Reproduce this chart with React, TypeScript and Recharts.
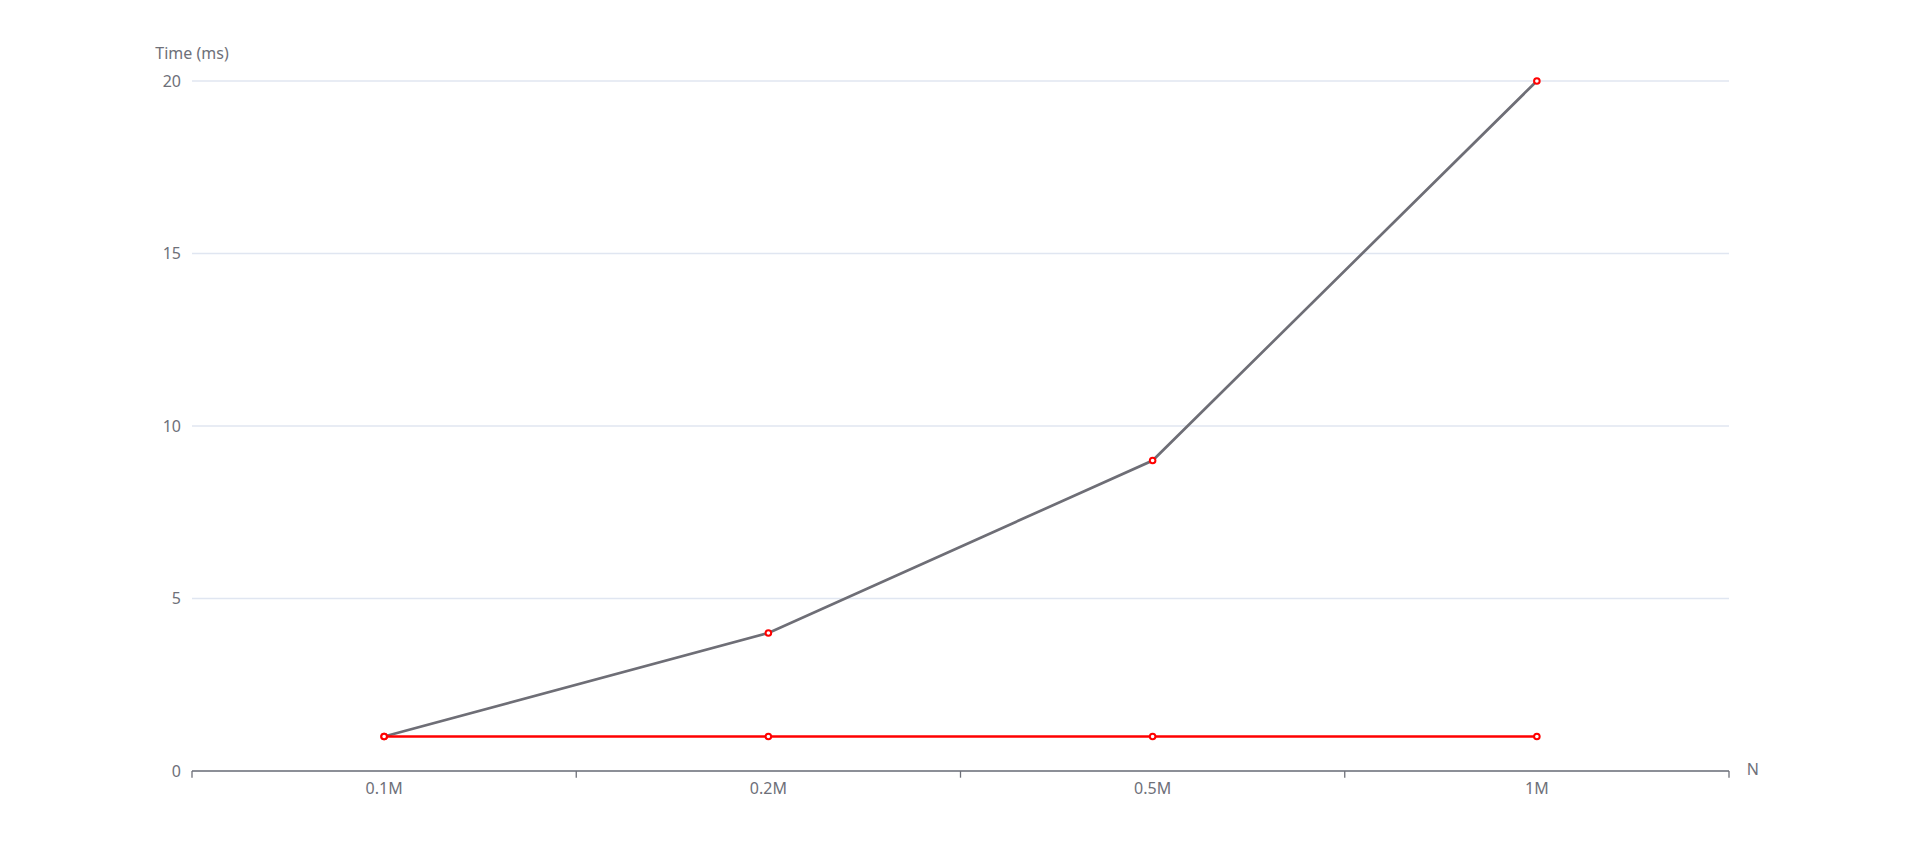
import React from 'react';
import { LineChart, Line, XAxis, YAxis, CartesianGrid } from 'recharts';

const categories = ['0.1M', '0.2M', '0.5M', '1M'];
const grayValues = [1, 4, 9, 20];
const redValues = [1, 1, 1, 1];
const yTicks = [0, 5, 10, 15, 20];

const W = 1919;
const H = 865;
const Y_AXIS_W = 40;
const X_AXIS_H = 30;
const M = { left: 192 - Y_AXIS_W, right: 190, top: 81, bottom: 94 - X_AXIS_H };
const PLOT_W = W - 192 - M.right;
const BAND = PLOT_W / categories.length;
const LABEL_COLOR = '#6e7079';
const FONT = '"Noto Sans", "Open Sans", sans-serif';

const data = categories.map((c, i) => ({ n: c, gray: grayValues[i], red: redValues[i] }));

const XTick = (props: any) => {
  const { x, y, payload, index } = props;
  const left = x - BAND / 2;
  const right = x + BAND / 2;
  return (
    <g>
      <line x1={left} y1={y} x2={left} y2={y + 6.7} stroke={LABEL_COLOR} strokeWidth={1.3} />
      {index === categories.length - 1 && (
        <line x1={right} y1={y} x2={right} y2={y + 6.7} stroke={LABEL_COLOR} strokeWidth={1.3} />
      )}
      <text x={x} y={y + 23} textAnchor="middle" fill={LABEL_COLOR} fontSize={16} fontFamily={FONT}>
        {payload.value}
      </text>
    </g>
  );
};

const YTick = (props: any) => {
  const { x, y, payload } = props;
  return (
    <text x={x - 11} y={y + 5.5} textAnchor="end" fill={LABEL_COLOR} fontSize={16} fontFamily={FONT}>
      {payload.value}
    </text>
  );
};

export default function App() {
  return (
    <div style={{ position: 'absolute', left: 0, top: 0, width: W, height: H, background: '#fff' }}>
      <LineChart width={W} height={H} data={data} margin={M}>
        <CartesianGrid vertical={false} stroke="#e0e6f1" strokeWidth={1.3} />
        <XAxis
          dataKey="n"
          scale="band"
          height={X_AXIS_H}
          tickSize={0}
          tickMargin={0}
          tickLine={false}
          axisLine={{ stroke: LABEL_COLOR, strokeWidth: 1.3 }}
          tick={<XTick />}
          interval={0}
          label={{ value: 'N', position: 'insideTopRight', offset: 0, dx: 30, dy: -7, fill: LABEL_COLOR, fontSize: 16, fontFamily: FONT }}
        />
        <YAxis
          width={Y_AXIS_W}
          domain={[0, 20]}
          ticks={yTicks}
          tickSize={0}
          tickMargin={0}
          tickLine={false}
          axisLine={false}
          tick={<YTick />}
          label={{ value: 'Time (ms)', position: 'top', offset: 22.5, dx: Y_AXIS_W / 2, fill: LABEL_COLOR, fontSize: 16, fontFamily: FONT }}
        />
        <Line
          dataKey="gray"
          stroke="#6e6e76"
          strokeWidth={2.7}
          dot={{ r: 2.8, stroke: '#ff0000', strokeWidth: 2, fill: '#ffffff' }}
          activeDot={false}
          isAnimationActive={false}
        />
        <Line
          dataKey="red"
          stroke="#ff0000"
          strokeWidth={2.7}
          dot={{ r: 2.8, stroke: '#ff0000', strokeWidth: 2, fill: '#ffffff' }}
          activeDot={false}
          isAnimationActive={false}
        />
      </LineChart>
    </div>
  );
}
